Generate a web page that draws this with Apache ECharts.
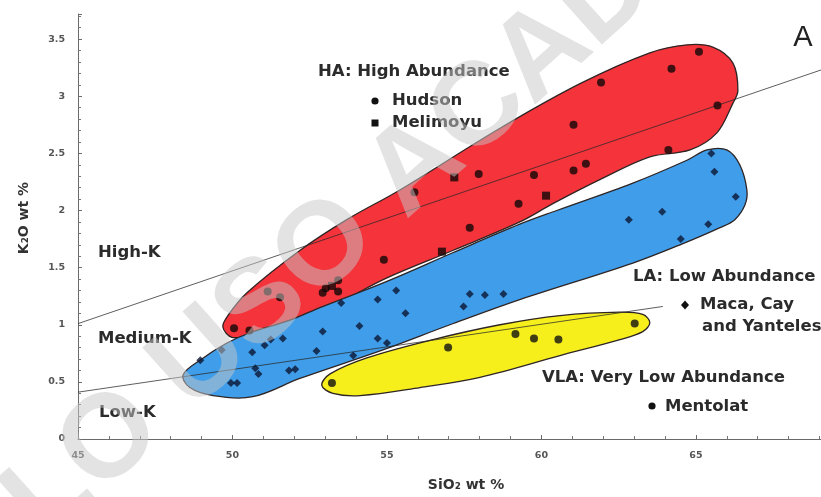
<!DOCTYPE html>
<html>
<head>
<meta charset="utf-8">
<script src="https://cdn.jsdelivr.net/npm/echarts@6/dist/echarts.min.js"></script>
<style>
html,body{margin:0;padding:0;background:#fff;}
#chart{width:821px;height:497px;}
</style>
</head>
<body>
<div id="chart"></div>
<script>
// ---------- DATA (SiO2 wt %, K2O wt %) ----------
const hudson = [[65.10,3.39],[64.21,3.24],[61.93,3.12],[65.70,2.92],[61.04,2.75],[64.11,2.53],[61.44,2.41],[61.04,2.35],[59.76,2.31],[59.26,2.06],[57.97,2.32],[55.89,2.16],[57.68,1.85],[54.90,1.57],[53.42,1.39],[53.02,1.32],[53.42,1.29],[52.92,1.28],[51.14,1.29],[51.54,1.24],[50.55,0.95],[50.05,0.97]];
const melimoyu = [[60.15,2.13],[57.18,2.29],[56.78,1.64],[53.22,1.34]];
const macaCayYanteles = [[65.50,2.50],[65.60,2.34],[66.29,2.12],[62.83,1.92],[63.91,1.99],[65.40,1.88],[64.51,1.75],[55.30,1.30],[54.70,1.22],[53.52,1.19],[55.60,1.10],[57.68,1.27],[58.17,1.26],[58.77,1.27],[57.48,1.16],[52.92,0.94],[54.11,0.99],[54.70,0.88],[55.00,0.84],[52.72,0.77],[53.91,0.73],[51.83,0.60],[52.03,0.61],[50.74,0.62],[50.84,0.57],[51.63,0.88],[51.24,0.87],[51.04,0.82],[49.65,0.78],[50.15,0.49],[49.95,0.49],[50.64,0.76],[48.96,0.69]];
const mentolat = [[53.22,0.49],[56.98,0.80],[59.16,0.92],[59.76,0.88],[60.55,0.87],[63.02,1.01]];

// field envelopes (outline vertices)
const haEnvelope = [[49.69,0.98],[49.85,1.08],[50.47,1.28],[52.18,1.65],[53.70,1.92],[55.42,2.18],[58.66,2.72],[61.25,3.11],[63.51,3.38],[64.71,3.45],[65.55,3.43],[66.20,3.29],[66.36,3.05],[66.20,2.94],[65.68,2.68],[64.81,2.53],[63.51,2.47],[61.89,2.27],[60.37,2.06],[59.30,1.90],[57.13,1.65],[55.00,1.41],[53.16,1.16],[51.21,0.98],[50.57,0.91],[49.98,0.89]];
const laEnvelope = [[48.40,0.56],[48.95,0.69],[49.82,0.84],[50.57,0.93],[51.86,1.04],[52.83,1.15],[55.00,1.38],[57.13,1.63],[59.30,1.88],[60.50,2.00],[62.96,2.24],[64.71,2.44],[65.36,2.53],[66.00,2.53],[66.42,2.40],[66.65,2.18],[66.59,2.05],[66.26,1.92],[65.78,1.85],[64.58,1.71],[62.96,1.54],[59.30,1.22],[57.04,1.00],[54.87,0.78],[52.18,0.53],[50.66,0.37],[49.37,0.38],[48.62,0.45]];
const vlaEnvelope = [[52.89,0.47],[53.25,0.40],[54.13,0.38],[56.07,0.45],[58.01,0.54],[60.60,0.73],[62.54,0.87],[63.28,0.94],[63.51,1.02],[63.28,1.09],[62.54,1.11],[60.60,1.08],[58.66,1.00],[56.49,0.87],[54.35,0.71],[53.16,0.57]];

// series-division boundary lines
const highKLine = [[45,1.01],[69.05,3.23]];
const lowKLine = [[45,0.41],[63.93,1.16]];

// axes
const xMin = 45, xMax = 69.05, xStep = 5;
const yMin = 0, yMax = 3.72, yStep = 0.5;

// ---------- CHART ----------
const envelopes = [
  {pts: haEnvelope, fill: '#f4333b'},
  {pts: laEnvelope, fill: '#3f9de9'},
  {pts: vlaEnvelope, fill: '#f6ef1c'}
];
const FONT = '"DejaVu Sans", sans-serif';
const chart = echarts.init(document.getElementById('chart'), null, {renderer: 'canvas'});

function txt(text, x, y, opts) {
  opts = opts || {};
  return {
    type: 'text', x: x, y: y, z: 50, rotation: opts.rotation || 0,
    style: {
      text: text,
      fill: opts.color || '#2b2b2b',
      font: opts.font || ('bold 16.5px ' + FONT),
      align: opts.align || 'left', textAlign: opts.align || 'left',
      verticalAlign: 'middle', textVerticalAlign: 'middle'
    }
  };
}
function dot(x, y) { return {type: 'circle', z: 50, shape: {cx: x, cy: y, r: 3.6}, style: {fill: '#111'}}; }

const option = {
  animation: false,
  backgroundColor: '#fff',
  grid: {left: 78, right: 0, top: 14, bottom: 58},
  xAxis: {
    type: 'value', min: xMin, max: xMax, interval: xStep,
    axisLine: {show: true, onZero: false, lineStyle: {color: '#6a6a6a', width: 1}},
    axisTick: {show: true, inside: true, length: 4, lineStyle: {color: '#6a6a6a'}},
    minorTick: {show: true, splitNumber: 5, length: 3, lineStyle: {color: '#777'}},
    splitLine: {show: false},
    axisLabel: {showMaxLabel: false, fontSize: 9.5, fontWeight: 'bold', color: '#555', fontFamily: FONT, margin: 12}
  },
  yAxis: {
    type: 'value', min: yMin, max: yMax, interval: yStep,
    axisLine: {show: true, lineStyle: {color: '#6a6a6a', width: 1}},
    axisTick: {show: true, inside: true, length: 4, lineStyle: {color: '#6a6a6a'}},
    minorTick: {show: true, splitNumber: 5, length: 3, lineStyle: {color: '#777'}},
    splitLine: {show: false},
    axisLabel: {showMaxLabel: false, fontSize: 9.5, fontWeight: 'bold', color: '#555', fontFamily: FONT, margin: 13}
  },
  series: [
    {
      type: 'custom', name: 'envelopes', z: 1,
      data: envelopes.map((e, i) => [e.pts[0][0], e.pts[0][1], i]),
      encode: {x: 0, y: 1},
      renderItem: function (params, api) {
        const e = envelopes[api.value(2)];
        const pts = e.pts.map(p => api.coord(p));
        return {type: 'polygon', shape: {points: pts, smooth: 0.35},
          style: {fill: e.fill, stroke: '#2e2424', lineWidth: 1.3}};
      },
      silent: true
    },
    {type: 'line', name: 'High-K boundary', data: highKLine, z: 2, showSymbol: false, silent: true,
      lineStyle: {color: 'rgba(40,40,40,0.75)', width: 1}},
    {type: 'line', name: 'Low-K boundary', data: lowKLine, z: 2, showSymbol: false, silent: true,
      lineStyle: {color: 'rgba(40,40,40,0.75)', width: 1}},
    {type: 'scatter', name: 'Hudson', data: hudson, z: 3, symbol: 'circle', symbolSize: 8,
      itemStyle: {color: '#120808'}},
    {type: 'scatter', name: 'Melimoyu', data: melimoyu, z: 3, symbol: 'rect', symbolSize: 8,
      itemStyle: {color: '#120808'}},
    {type: 'scatter', name: 'Maca, Cay and Yanteles', data: macaCayYanteles, z: 3, symbol: 'diamond', symbolSize: 8,
      itemStyle: {color: '#0b1633'}},
    {type: 'scatter', name: 'Mentolat', data: mentolat, z: 3, symbol: 'circle', symbolSize: 8,
      itemStyle: {color: '#111'}}
  ],
  graphic: [
    txt('HA: High Abundance', 318, 72),
    dot(375, 101), txt('Hudson', 392, 101),
    {type: 'rect', z: 50, shape: {x: 371.5, y: 119.5, width: 7, height: 7}, style: {fill: '#111'}},
    txt('Melimoyu', 392, 123),
    txt('High-K', 98, 253),
    txt('Medium-K', 98, 339),
    txt('Low-K', 99, 413),
    txt('LA: Low Abundance', 633, 277),
    {type: 'polygon', z: 50, shape: {points: [[685, 300.5], [689, 305], [685, 309.5], [681, 305]]}, style: {fill: '#111'}},
    txt('Maca, Cay', 700, 305),
    txt('and Yanteles', 702, 327),
    txt('VLA: Very Low Abundance', 542, 378),
    dot(652, 406), txt('Mentolat', 665, 407),
    txt('A', 803, 38, {font: '29px "Liberation Sans", sans-serif', color: '#222', align: 'center'}),
    txt('SiO₂ wt %', 466, 485, {font: 'bold 14px ' + FONT, color: '#333', align: 'center'}),
    txt('K₂O wt %', 24, 218, {font: 'bold 14px ' + FONT, color: '#333', align: 'center', rotation: Math.PI / 2}),
    // watermark
    {type: 'text', x: 360, y: 218, z: 100, rotation: Math.PI / 4.3, silent: true,
      style: {text: 'EJEMPLO USO', fill: 'rgba(200,200,200,0.5)', font: 'bold 118px "Liberation Sans", sans-serif',
        align: 'right', textAlign: 'right', verticalAlign: 'middle', textVerticalAlign: 'middle'}},
    {type: 'text', x: 384, y: 196, z: 100, rotation: Math.PI / 4.3, silent: true,
      style: {text: 'ACADÉMICO', fill: 'rgba(200,200,200,0.5)', font: 'bold 118px "Liberation Sans", sans-serif',
        align: 'left', textAlign: 'left', verticalAlign: 'middle', textVerticalAlign: 'middle'}}
  ]
};
chart.setOption(option);
</script>
</body>
</html>
